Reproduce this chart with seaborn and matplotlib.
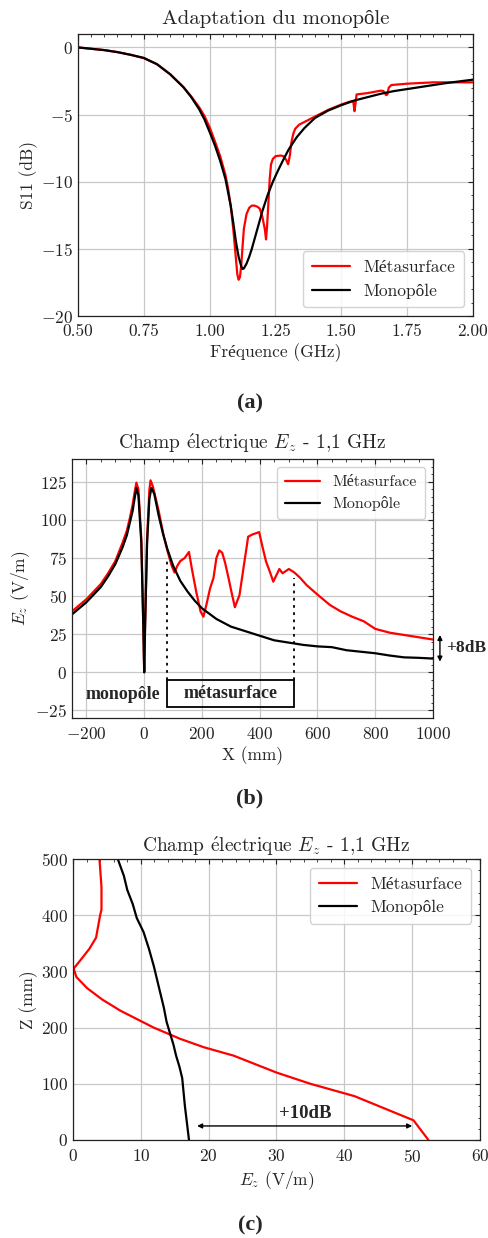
import numpy as np
import pandas as pd
import matplotlib
matplotlib.use("Agg")
import matplotlib.pyplot as plt
from matplotlib.ticker import AutoMinorLocator, MultipleLocator, FormatStrFormatter
from matplotlib.patches import Rectangle
import seaborn as sns

# ---------------- data ----------------
# (a) S11 vs frequency
freq_mono = [0.50, 0.55, 0.60, 0.65, 0.70, 0.75, 0.80, 0.85, 0.90, 0.93, 0.96, 0.98,
             1.00, 1.02, 1.04, 1.06, 1.08, 1.09, 1.10, 1.11, 1.12, 1.125, 1.13, 1.14,
             1.15, 1.16, 1.17, 1.18, 1.19, 1.20, 1.22, 1.24, 1.26, 1.28, 1.30, 1.33,
             1.36, 1.40, 1.45, 1.50, 1.55, 1.60, 1.65, 1.70, 1.75, 1.80, 1.90, 2.00]
s11_mono = [0.0, -0.1, -0.2, -0.35, -0.55, -0.78, -1.25, -2.0, -2.95, -3.7, -4.6, -5.35,
            -6.3, -7.3, -8.45, -9.8, -11.8, -13.1, -14.5, -15.6, -16.3, -16.5, -16.45, -16.1,
            -15.6, -15.0, -14.3, -13.6, -12.9, -12.2, -11.0, -10.0, -9.15, -8.35, -7.6, -6.7,
            -6.0, -5.25, -4.7, -4.3, -3.95, -3.7, -3.45, -3.25, -3.1, -2.95, -2.65, -2.4]

freq_meta = [0.50, 0.55, 0.60, 0.65, 0.70, 0.75, 0.80, 0.85, 0.90, 0.93, 0.96, 0.98,
             1.00, 1.02, 1.04, 1.06, 1.07, 1.08, 1.09, 1.10, 1.105, 1.11, 1.115, 1.12,
             1.125, 1.13, 1.14, 1.15, 1.16, 1.17, 1.18, 1.19, 1.20, 1.21, 1.214, 1.218,
             1.223, 1.228, 1.233, 1.24, 1.25, 1.27, 1.28, 1.29, 1.298, 1.305, 1.31, 1.318,
             1.325, 1.34, 1.36, 1.40, 1.45, 1.50, 1.53, 1.545, 1.55, 1.553, 1.558, 1.60,
             1.65, 1.66, 1.67, 1.675, 1.68, 1.69, 1.75, 1.85, 2.00]
s11_meta = [0.0, -0.1, -0.2, -0.35, -0.55, -0.8, -1.25, -2.0, -2.95, -3.65, -4.45, -5.1,
            -5.95, -7.0, -8.1, -9.5, -10.5, -11.8, -13.6, -15.8, -16.9, -17.3, -17.1, -16.2,
            -14.8, -13.5, -12.4, -11.95, -11.78, -11.78, -11.85, -12.0, -12.6, -13.6, -14.3, -13.3,
            -11.6, -9.8, -8.7, -8.3, -8.1, -8.05, -8.1, -8.35, -8.7, -8.0, -7.1, -6.4,
            -6.05, -5.75, -5.55, -5.15, -4.65, -4.25, -4.05, -3.98, -4.75, -4.3, -3.5, -3.4,
            -3.22, -3.25, -3.55, -3.5, -3.0, -2.8, -2.7, -2.6, -2.6]

# (b) Ez along X
x_mono = [-250, -200, -150, -125, -100, -75, -60, -50, -40, -35, -27, -20, -10, -3, 0, 3,
          10, 18, 25, 35, 50, 65, 80, 100, 125, 150, 175, 200, 250, 300, 350, 400, 450,
          500, 550, 600, 650, 700, 750, 800, 850, 900, 950, 1000]
ez_x_mono = [38, 46, 56, 63, 71, 82, 90, 98, 106, 112, 121, 116, 85, 30, 0, 30,
             85, 114, 121, 117, 103, 91, 81, 70, 60, 53, 47, 42, 35, 30, 27, 24, 21,
             19.5, 18, 17, 16.5, 14.5, 13.5, 12.5, 11, 9.8, 9.5, 9]

x_meta = [-250, -200, -150, -125, -100, -75, -60, -50, -40, -35, -27, -20, -10, -3, 0, 3,
          10, 18, 22, 30, 50, 67, 80, 95, 105, 115, 125, 140, 155, 165, 180, 195, 205,
          215, 228, 240, 250, 260, 270, 280, 291, 303, 314, 330, 345, 360, 375, 398, 410,
          422, 435, 447, 468, 479, 501, 520, 540, 562, 600, 643, 680, 720, 760, 800, 850,
          900, 950, 1000]
ez_x_meta = [40, 48, 58, 65, 73, 85, 93, 101, 110, 116, 124.5, 120, 88, 30, 0, 30,
             88, 120, 126, 122, 106, 90, 80, 70, 65.5, 70, 73, 75, 79, 68, 53, 40, 36.5,
             44, 55, 62, 75, 80, 78.5, 72, 62.7, 52, 42.7, 50.7, 70, 89, 90.5, 92, 82,
             72.6, 66, 59.5, 67.8, 65, 67.8, 65.5, 62, 57.3, 51, 44.2, 40, 36.5, 33.5, 28.5, 26,
             24.5, 23, 21.5]

# (c) Ez along Z
ez_z_meta = [3.9, 4.2, 4.2, 4.0, 3.4, 2.4, 1.1, 0.1, 0.5, 2.1, 4.3, 7.0, 11.9, 15.8,
             19.3, 23.7, 30.0, 35.0, 41.5, 50.2, 52.4]
z_meta = [500, 450, 410, 400, 360, 340, 320, 305, 290, 270, 250, 230, 200, 180,
          165, 150, 120, 100, 78, 35, 0]
ez_z_mono = [6.6, 7.5, 8.0, 8.8, 9.4, 10.4, 11.2, 11.9, 12.4, 12.8, 13.4, 13.8, 14.3,
             14.8, 15.2, 15.7, 16.1, 16.3, 16.5, 16.8, 17.1]
z_mono = [500, 470, 445, 420, 395, 370, 340, 310, 285, 265, 235, 210, 190,
          170, 150, 130, 110, 85, 60, 30, 0]

series_names = ["Métasurface", "Monopôle"]

# ---------------- style ----------------
sns.set_style("white")
plt.rcParams.update({
    "font.family": ["cmr10", "Liberation Serif", "DejaVu Serif"],
    "mathtext.fontset": "cm",
    "axes.formatter.use_mathtext": True,
    "axes.unicode_minus": True,
    "font.size": 12.5,
    "axes.edgecolor": "#222222",
    "axes.linewidth": 0.9,
    "xtick.direction": "in",
    "ytick.direction": "in",
    "xtick.top": True,
    "ytick.right": True,
    "xtick.major.size": 3.5,
    "ytick.major.size": 3.5,
    "xtick.minor.size": 1.8,
    "ytick.minor.size": 1.8,
    "xtick.major.pad": 5.5,
    "xtick.minor.visible": True,
    "ytick.minor.visible": True,
    "xtick.color": "#222222",
    "ytick.color": "#222222",
    "xtick.labelsize": 12.5,
    "ytick.labelsize": 12.5,
    "axes.labelsize": 12.5,
    "legend.fontsize": 12.5,
    "axes.titlesize": 14,
})

W, H = 489, 1238
fig = plt.figure(figsize=(W / 100, H / 100), dpi=100)


def add_ax(l, r, t, b):
    return fig.add_axes([l / W, 1 - b / H, (r - l) / W, (b - t) / H])


def style_ax(ax, xminor, yminor):
    ax.grid(True, color="#c8c8c8", lw=0.9, zorder=0)
    ax.set_axisbelow(True)
    ax.xaxis.set_minor_locator(AutoMinorLocator(xminor))
    ax.yaxis.set_minor_locator(AutoMinorLocator(yminor))
    ax.tick_params(which="both", top=True, right=True, direction="in")
    for s in ax.spines.values():
        s.set_visible(True)


def legend(ax, loc, size):
    leg = ax.legend(loc=loc, frameon=True, fancybox=True, framealpha=0.85,
                    edgecolor="#cccccc", handlelength=2.2, borderpad=0.5,
                    labelspacing=0.45, fontsize=size)
    for line in leg.get_lines():
        line.set_linewidth(1.6)
    return leg


lw = 1.6
bold_font = dict(family=["Liberation Serif", "DejaVu Serif"], weight="bold")
title_ez = r"Champ $\mathrm{\acute{e}}$lectrique $E_z$ - 1,1 GHz"

# ---------------- (a) ----------------
ax1 = add_ax(78, 473, 34, 316)
dfa_meta = pd.DataFrame({"f": freq_meta, "s": s11_meta})
dfa_mono = pd.DataFrame({"f": freq_mono, "s": s11_mono})
sns.lineplot(data=dfa_meta, x="f", y="s", ax=ax1, color="red", lw=lw,
             label=series_names[0], sort=False, estimator=None)
sns.lineplot(data=dfa_mono, x="f", y="s", ax=ax1, color="black", lw=lw,
             label=series_names[1], sort=False, estimator=None)
ax1.set_xlim(0.5, 2.0)
ax1.set_ylim(-20, 1.0)
ax1.xaxis.set_major_locator(MultipleLocator(0.25))
ax1.xaxis.set_major_formatter(FormatStrFormatter("%.2f"))
ax1.yaxis.set_major_locator(MultipleLocator(5))
style_ax(ax1, 5, 5)
ax1.set_xlabel("Fréquence (GHz)", labelpad=3)
ax1.set_ylabel("S11 (dB)", labelpad=2)
ax1.set_title("Adaptation du monopôle", pad=7, fontsize=15)
legend(ax1, "lower right", 12.5)

# ---------------- (b) ----------------
ax2 = add_ax(72, 433, 459, 718)
dfb_meta = pd.DataFrame({"x": x_meta, "e": ez_x_meta})
dfb_mono = pd.DataFrame({"x": x_mono, "e": ez_x_mono})
sns.lineplot(data=dfb_meta, x="x", y="e", ax=ax2, color="red", lw=lw,
             label=series_names[0], sort=False, estimator=None)
sns.lineplot(data=dfb_mono, x="x", y="e", ax=ax2, color="black", lw=lw,
             label=series_names[1], sort=False, estimator=None)
ax2.set_xlim(-250, 1000)
ax2.set_ylim(-30, 140)
ax2.xaxis.set_major_locator(MultipleLocator(200))
ax2.yaxis.set_major_locator(MultipleLocator(25))
style_ax(ax2, 4, 5)
ax2.set_xlabel("X (mm)", labelpad=3)
ax2.set_ylabel("$E_z$ (V/m)", labelpad=2)
ax2.set_title(title_ez, pad=7)
legend(ax2, "upper right", 11.5)
# annotations
ax2.plot([80, 80], [-5, 74], ls=(0, (1.5, 2.5)), color="black", lw=1.3)
ax2.plot([520, 520], [-5, 62], ls=(0, (1.5, 2.5)), color="black", lw=1.3)
ax2.add_patch(Rectangle((80, -22.5), 440, 17.5, fill=False, ec="black", lw=1.3, zorder=3))
ax2.text(300, -14, "métasurface", ha="center", va="center", fontsize=13, **bold_font)
ax2.text(-75, -14.5, "monopôle", ha="center", va="center", fontsize=13, **bold_font)
ax2.annotate("", xy=(1024, 7), xytext=(1024, 24.5), annotation_clip=False,
             arrowprops=dict(arrowstyle="<|-|>", color="black", lw=1.0,
                             mutation_scale=7, shrinkA=0, shrinkB=0))
ax2.text(1045, 16, "+8dB", ha="left", va="center", fontsize=12.5, clip_on=False, **bold_font)

# ---------------- (c) ----------------
ax3 = add_ax(73, 480, 859, 1140)
dfc_meta = pd.DataFrame({"e": ez_z_meta, "z": z_meta})
dfc_mono = pd.DataFrame({"e": ez_z_mono, "z": z_mono})
sns.lineplot(data=dfc_meta, x="e", y="z", ax=ax3, color="red", lw=lw,
             label=series_names[0], sort=False, estimator=None)
sns.lineplot(data=dfc_mono, x="e", y="z", ax=ax3, color="black", lw=lw,
             label=series_names[1], sort=False, estimator=None)
ax3.set_xlim(0, 60)
ax3.set_ylim(0, 500)
ax3.xaxis.set_major_locator(MultipleLocator(10))
ax3.yaxis.set_major_locator(MultipleLocator(100))
style_ax(ax3, 5, 5)
ax3.set_xlabel("$E_z$ (V/m)", labelpad=3)
ax3.set_ylabel("Z (mm)", labelpad=2)
ax3.set_title(title_ez, pad=5)
legend(ax3, "upper right", 12.5)
ax3.annotate("", xy=(18.3, 25), xytext=(50, 25),
             arrowprops=dict(arrowstyle="<|-|>", color="black", lw=1.0,
                             mutation_scale=7, shrinkA=0, shrinkB=0))
ax3.text(34.2, 47, "+10dB", ha="center", va="center", fontsize=13.5, **bold_font)

# panel labels
for lab, yy in [("(a)", 403), ("(b)", 798), ("(c)", 1225)]:
    fig.text(250 / W, 1 - yy / H, lab, ha="center", va="center", fontsize=16,
             family=["Liberation Serif"], weight="bold")

fig.savefig("out.png", dpi=100)
